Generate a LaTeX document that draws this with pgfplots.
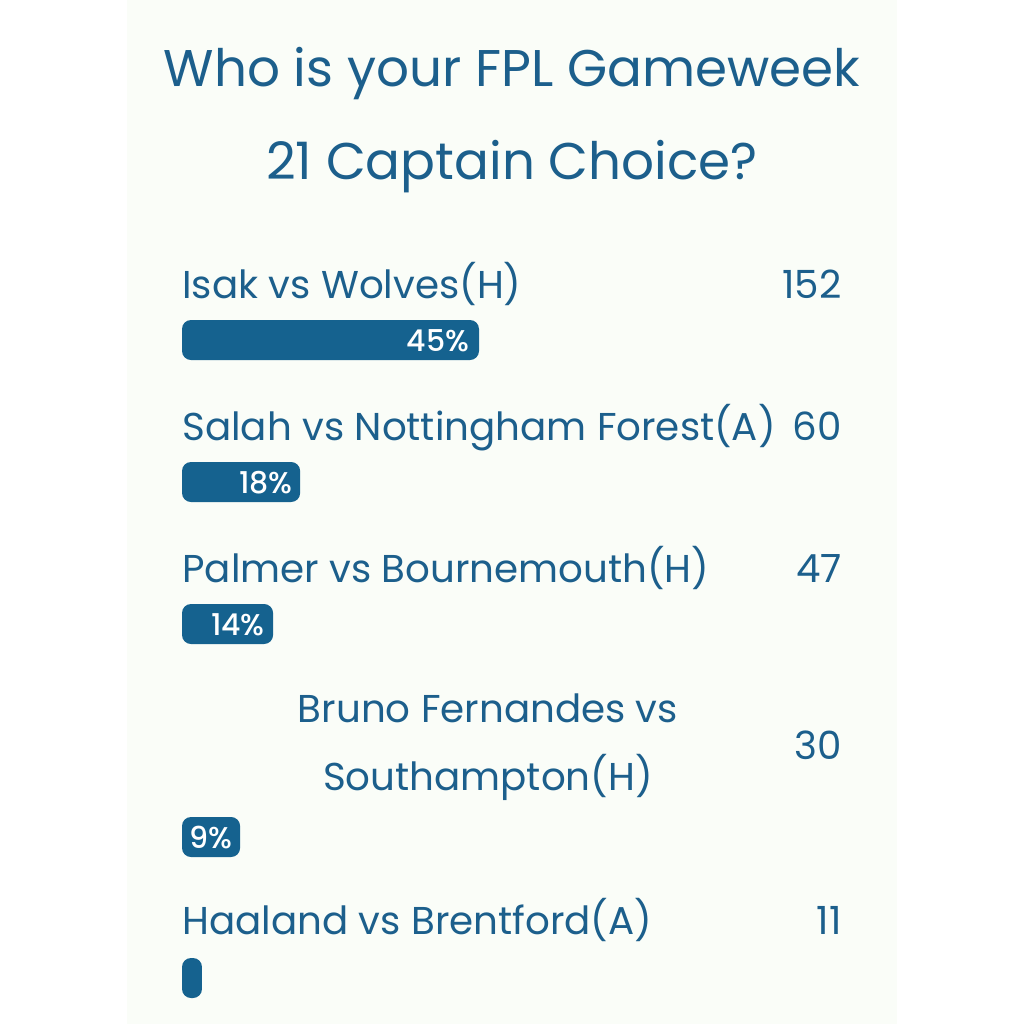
\documentclass[border=0pt]{standalone}
\usepackage{fontspec}
\setmainfont{Poppins}
\newfontfamily\pmed{Poppins}[UprightFont=* Medium]
\usepackage{pgfplots}
\pgfplotsset{compat=1.18}
\definecolor{txtblue}{HTML}{1C5F8C}
\definecolor{barblue}{HTML}{15628F}
\definecolor{panel}{HTML}{FAFDF8}
\begin{document}
\begin{tikzpicture}
\begin{axis}[
  scale only axis,
  width=512pt, height=512pt,
  xmin=-27.5758, xmax=127.5758,
  ymin=0, ymax=1024, y dir=reverse,
  hide axis,
  clip=false,
]
% backgrounds
\fill[white] (axis cs:-27.5758,0) rectangle (axis cs:127.5758,1024);
\fill[panel] (axis cs:-8.333,0) rectangle (axis cs:108.333,1024);
% title
\node[anchor=base, inner sep=0pt, text=txtblue, font=\fontsize{25.8pt}{31pt}\selectfont] at (axis cs:50,86) {Who is your FPL Gameweek};
\node[anchor=base, inner sep=0pt, text=txtblue, font=\fontsize{25.8pt}{31pt}\selectfont] at (axis cs:50,179) {21 Captain Choice?};
% bars
\addplot[xbar, bar width=20pt, bar shift=0pt, fill=barblue, draw=none, rounded corners=4.5pt]
  coordinates {(45,340) (17.9,482) (13.8,624) (8.8,837) (3.03,978)};
% option labels
\begin{scope}[every node/.style={inner sep=0pt, text=txtblue, font=\fontsize{19.4pt}{23pt}\selectfont}]
\node[anchor=base west] at (axis cs:0,298) {Isak vs Wolves(H)};
\node[anchor=base west] at (axis cs:0,440) {Salah vs Nottingham Forest(A)};
\node[anchor=base west] at (axis cs:0,582) {Palmer vs Bournemouth(H)};
\node[anchor=base] at (axis cs:46.36,722) {Bruno Fernandes vs};
\node[anchor=base] at (axis cs:46.36,790) {Southampton(H)};
\node[anchor=base west] at (axis cs:0,934) {Haaland vs Brentford(A)};
% counts
\node[anchor=base east] at (axis cs:100,298) {152};
\node[anchor=base east] at (axis cs:100,440) {60};
\node[anchor=base east] at (axis cs:100,582) {47};
\node[anchor=base east] at (axis cs:100,759) {30};
\node[anchor=base east] at (axis cs:100,934) {11};
\end{scope}
% percentages
\begin{scope}[every node/.style={text=white, font=\pmed\fontsize{15pt}{18pt}\selectfont, inner sep=0pt}]
\node[anchor=base east] at (axis cs:43.6,351) {45\%};
\node[anchor=base east] at (axis cs:16.8,493) {18\%};
\node[anchor=base east] at (axis cs:12.6,635) {14\%};
\node[anchor=base east] at (axis cs:7.7,848) {9\%};
\end{scope}
\end{axis}
\end{tikzpicture}
\end{document}
